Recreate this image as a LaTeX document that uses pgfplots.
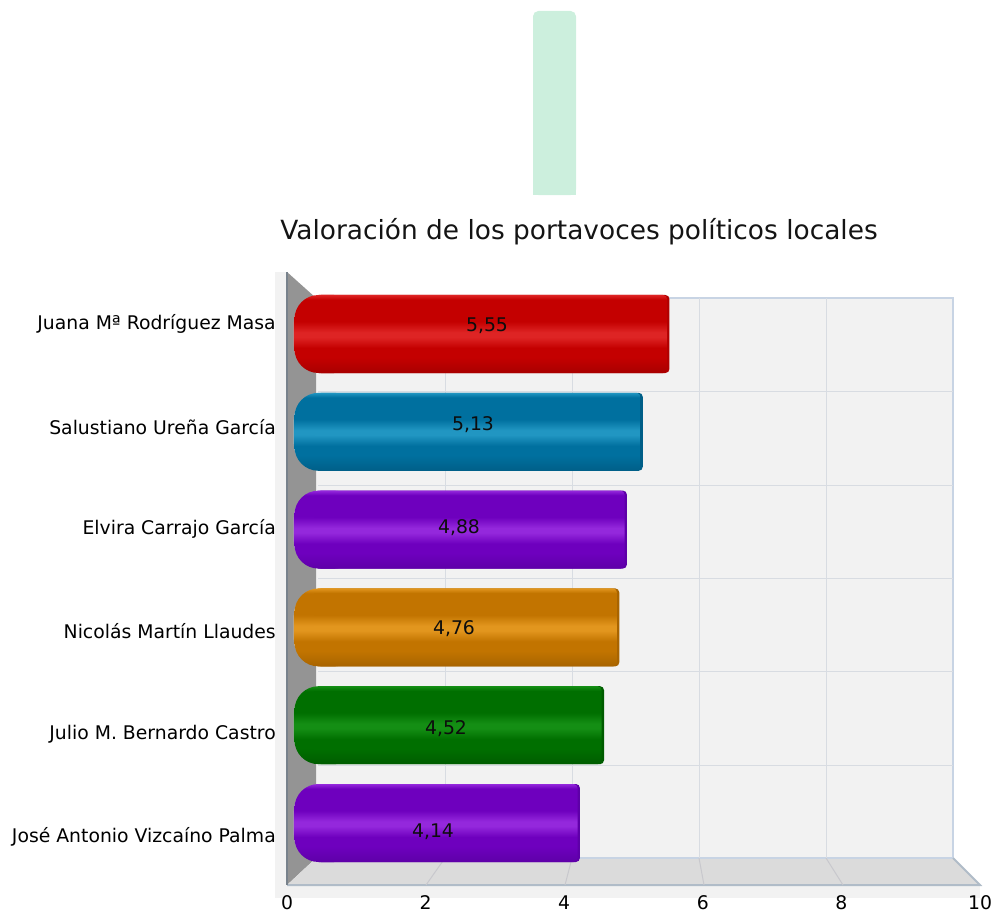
\documentclass[border=0pt]{standalone}
\usepackage{pgfplots}
\pgfplotsset{compat=1.18}
\usepackage{fontspec}
\setmainfont{DejaVu Sans}
\newcommand{\barshade}[4]{%
 \pgfdeclareverticalshading{#1}{100bp}{color(0bp)=(#4); color(25bp)=(#4); color(35bp)=(#2); color(41bp)=(#2); color(48bp)=(#3); color(51bp)=(#3); color(58bp)=(#2); color(72bp)=(#2); color(75bp)=(#3); color(100bp)=(#3)}}
\definecolor{rT}{HTML}{C40000}\definecolor{rM}{HTML}{DE2424}\definecolor{rB}{HTML}{A80000}\definecolor{rE}{HTML}{B00000}
\definecolor{bT}{HTML}{00709F}\definecolor{bM}{HTML}{2196C2}\definecolor{bB}{HTML}{005F88}\definecolor{bE}{HTML}{005F88}
\definecolor{pT}{HTML}{6E00BE}\definecolor{pM}{HTML}{9428DC}\definecolor{pB}{HTML}{5E00A8}\definecolor{pE}{HTML}{5E00A8}
\definecolor{oT}{HTML}{C27400}\definecolor{oM}{HTML}{E2961E}\definecolor{oB}{HTML}{A86400}\definecolor{oE}{HTML}{A86400}
\definecolor{gT}{HTML}{006F00}\definecolor{gM}{HTML}{148E14}\definecolor{gB}{HTML}{005C00}\definecolor{gE}{HTML}{005C00}
\definecolor{wallline}{RGB}{200,212,228}
\definecolor{frontline}{RGB}{176,188,200}
\definecolor{leftline}{RGB}{120,130,140}
\definecolor{floorgrid}{RGB}{200,200,205}
\definecolor{gridc}{RGB}{216,220,226}
\definecolor{palebar}{RGB}{204,239,221}
\barshade{redbar}{rT}{rM}{rB}
\barshade{bluebar}{bT}{bM}{bB}
\barshade{purplebar}{pT}{pM}{pB}
\barshade{orangebar}{oT}{oM}{oB}
\barshade{greenbar}{gT}{gM}{gB}
% value, position, shading, edge colour, rim colour (1 reference pixel = 0.75pt)
\newcommand{\onebar}[5]{%
 \addplot[xbar,bar shift=0pt,bar width=58.5pt,draw=none,fill=#4,rounded corners=3pt,forget plot,xshift=-0.75pt] coordinates {(#1,#2)};
 \addplot[xbar,bar shift=0pt,bar width=54pt,draw=none,fill=#5,rounded corners=18pt,forget plot,xshift=-18.2pt] coordinates {(1,#2)};
 \addplot[xbar,bar shift=0pt,bar width=58.5pt,draw=none,shading=#3,rounded corners=18pt,forget plot,xshift=-17.6pt] coordinates {(1,#2)};
 \addplot[xbar,bar shift=0pt,bar width=58.5pt,draw=none,shading=#3,rounded corners=3pt,forget plot,xshift=-2.5pt] coordinates {(#1,#2)};
}
\begin{document}
\begin{tikzpicture}[x=0.75pt,y=-0.75pt]
\useasboundingbox (0,0) rectangle (995,917);
\fill[black!5] (275,272) rectangle (287,898);
\fill[black!5] (287,885) rectangle (980,898);
\fill[black!5] (316,298) rectangle (953,858);
\fill[black!42] (287,272) -- (316,298) -- (316,858) -- (287,885) -- cycle;
\fill[black!14] (287,885) -- (316,858) -- (953,858) -- (980,885) -- cycle;
\draw[wallline,line width=1.5pt] (316,298) -- (953,298) -- (953,858) -- (316,858);
\draw[frontline,line width=1.5pt] (953,858) -- (980,885) -- (287,885);
\draw[leftline,line width=1.1pt] (287,272) -- (287,885);
\foreach \a/\b in {445/426,572/565,699/704,826/843}
  \draw[floorgrid,line width=0.75pt] (\a,858) -- (\b,885);
\begin{axis}[at={(399.75pt,-146.25pt)},anchor=south west,scale only axis,width=32.25pt,height=138pt,
  xmin=-0.5,xmax=0.5,ymin=0,ymax=1,hide axis]
\addplot[ybar,bar shift=0pt,bar width=32.25pt,draw=none,fill=palebar,rounded corners=4pt] coordinates {(0,1)};
\addplot[ybar,bar shift=0pt,bar width=32.25pt,draw=none,fill=palebar] coordinates {(0,0.5)};
\end{axis}
\begin{axis}[at={(215.25pt,-663.75pt)},anchor=south west,scale only axis,width=519.75pt,height=459.75pt,
  xmin=0,xmax=10,ymin=-0.488,ymax=5.498,axis line style={draw=none},major tick length=0pt,
  xtick={0,2,4,6,8,10},ytick={0,1,2,3,4,5},
  yticklabels={José Antonio Vizcaíno Palma,Julio M. Bernardo Castro,Nicolás Martín Llaudes,Elvira Carrajo García,Salustiano Ureña García,Juana Mª Rodríguez Masa},
  yticklabel style={font=\fontsize{14.1}{16}\selectfont,xshift=-8.25pt,yshift=-1pt,inner sep=0pt,anchor=east},
  xticklabel style={font=\fontsize{14.1}{16}\selectfont,yshift=-8pt,inner sep=0pt,anchor=north},
  /pgf/number format/assume math mode=true]
\end{axis}
\begin{axis}[at={(238.5pt,-643.5pt)},anchor=south west,scale only axis,width=476.25pt,height=420pt,
  xmin=0,xmax=10,ymin=-0.358,ymax=5.368,clip=false,axis line style={draw=none},major tick length=0pt,
  xtick={2,4,6,8},ytick={0.593,1.554,2.505,3.456,4.417},xticklabels={},yticklabels={},
  grid=major,major grid style={gridc,line width=0.75pt}]
\onebar{5.55}{5}{redbar}{rE}{rM!60!white}
\onebar{5.13}{4}{bluebar}{bE}{bM!50!white}
\onebar{4.88}{3}{purplebar}{pE}{pM!60!white}
\onebar{4.76}{2}{orangebar}{oE}{oM!60!white}
\onebar{4.52}{1}{greenbar}{gE}{gM!60!white}
\onebar{4.14}{0}{purplebar}{pE}{pM!60!white}
\end{axis}
\tikzset{val/.style={font=\fontsize{14.1}{16}\selectfont,inner sep=0pt,text=black!95}}
\node[val] at (487,326) {5,55};
\node[val] at (473,425) {5,13};
\node[val] at (459,528) {4,88};
\node[val] at (454,629) {4,76};
\node[val] at (446,729) {4,52};
\node[val] at (433,832) {4,14};
\node[font=\fontsize{19.8}{25}\selectfont,inner sep=0pt,text=black!92] at (579,232) {Valoración de los portavoces políticos locales};
\end{tikzpicture}
\end{document}
